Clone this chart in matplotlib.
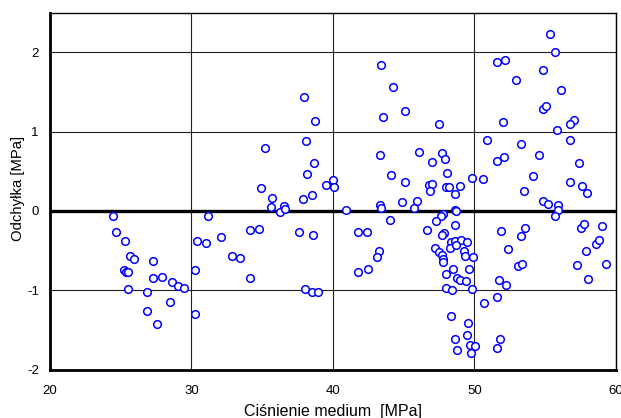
import matplotlib
matplotlib.use("Agg")
import matplotlib.pyplot as plt

plt.rcParams['font.family'] = ['Liberation Sans', 'DejaVu Sans']

pressure = [
    24.49, 24.68, 25.29, 25.65, 25.93, 25.22, 25.36, 25.50, 25.53, 26.89,
    27.29, 27.29, 27.93, 28.61, 29.03, 29.48, 28.52, 26.85, 27.60,
    30.23, 30.26, 30.42, 31.03, 31.20, 32.10, 32.84, 33.43, 34.17, 34.77, 34.17,
    37.93, 38.74, 38.12, 35.21, 38.64, 38.20, 34.90, 39.99, 39.50, 40.11,
    38.50, 37.86, 35.73, 35.66, 36.28, 36.54, 36.65, 40.94,
    37.58, 38.60, 38.03, 38.53, 38.95, 41.77, 41.77,
    43.43, 44.28, 45.10, 43.53, 47.51, 43.36, 46.12, 47.72, 47.93, 47.01,
    48.07, 44.12, 45.08, 46.80, 47.03, 46.87, 47.98, 48.21, 48.61, 48.99,
    49.81, 50.59, 44.87, 45.98, 43.33, 43.38, 45.72, 48.66,
    44.07, 42.42, 43.25, 43.15, 42.47,
    48.71, 47.76, 47.65, 47.29, 48.64, 46.68, 47.83, 47.69, 48.33, 48.64,
    49.08, 49.46, 47.24, 47.53, 48.28, 48.73, 49.24, 47.74, 47.79, 47.76,
    49.36, 49.88, 48.49, 49.63, 48.00, 48.75, 48.99, 49.39, 48.00, 48.45, 49.84,
    48.33, 49.58, 48.61, 49.50, 49.72, 50.05, 48.76, 49.77, 50.66,
    51.58, 52.17, 52.03, 50.87, 51.62, 52.12,
    55.37, 55.73, 54.88, 52.97, 56.13, 54.86, 55.09, 57.03, 56.79, 55.83,
    53.28, 56.79, 54.60, 57.40, 54.13, 53.49, 56.75, 57.60, 57.95, 54.84,
    55.23, 55.92, 55.90, 55.68,
    51.91, 52.40, 51.77, 52.22, 51.63, 51.82, 51.58,
    53.59, 53.33, 53.07, 53.37, 57.55, 57.78, 59.03, 58.61, 58.82, 57.92,
    57.24, 59.29, 58.04,
]

deviation = [
    -0.07, -0.26, -0.38, -0.57, -0.60, -0.75, -0.77, -0.77, -0.99, -1.02,
    -0.63, -0.85, -0.83, -0.89, -0.95, -0.97, -1.15, -1.26, -1.42,
    -0.75, -1.30, -0.38, -0.40, -0.07, -0.33, -0.57, -0.59, -0.24, -0.23, -0.84,
    1.44, 1.13, 0.88, 0.79, 0.61, 0.47, 0.29, 0.39, 0.33, 0.30,
    0.20, 0.15, 0.16, 0.05, -0.01, 0.06, 0.03, 0.01,
    -0.26, -0.30, -0.99, -1.02, -1.02, -0.26, -0.77,
    1.84, 1.56, 1.26, 1.18, 1.10, 0.71, 0.74, 0.73, 0.66, 0.62,
    0.48, 0.45, 0.36, 0.33, 0.34, 0.25, 0.30, 0.30, 0.21, 0.31,
    0.42, 0.40, 0.11, 0.13, 0.07, 0.04, 0.04, 0.01,
    -0.11, -0.26, -0.50, -0.58, -0.73,
    0.00, -0.04, -0.06, -0.13, -0.18, -0.24, -0.28, -0.30, -0.39, -0.38,
    -0.37, -0.39, -0.47, -0.52, -0.47, -0.43, -0.51, -0.55, -0.60, -0.64,
    -0.57, -0.58, -0.73, -0.73, -0.79, -0.85, -0.87, -0.88, -0.97, -1.00, -0.98,
    -1.32, -1.41, -1.61, -1.56, -1.69, -1.70, -1.76, -1.79, -1.16,
    1.88, 1.90, 1.12, 0.89, 0.63, 0.68,
    2.23, 2.01, 1.78, 1.65, 1.52, 1.29, 1.32, 1.15, 1.10, 1.02,
    0.85, 0.89, 0.71, 0.61, 0.44, 0.25, 0.37, 0.31, 0.23, 0.13,
    0.09, 0.07, 0.01, -0.06,
    -0.25, -0.48, -0.87, -0.94, -1.09, -1.62, -1.73,
    -0.21, -0.32, -0.69, -0.67, -0.21, -0.16, -0.19, -0.42, -0.37, -0.50,
    -0.68, -0.67, -0.86,
]

x_ticks = [20, 30, 40, 50, 60]
y_ticks = [-2, -1, 0, 1, 2]

fig = plt.figure(figsize=(6.21, 4.18), dpi=100)
ax = fig.add_axes([0.0805, 0.116, 0.911, 0.8536])

ax.set_xlim(20, 60)
ax.set_ylim(-2, 2.5)
ax.set_xticks(x_ticks)
ax.set_yticks(y_ticks)
ax.set_xticklabels([str(v) for v in x_ticks])
ax.set_yticklabels([str(v) for v in y_ticks])
ax.tick_params(length=0, labelsize=9.5, colors='black')
ax.tick_params(axis='x', pad=11)
ax.tick_params(axis='y', pad=8)

ax.grid(True, color='#222222', linewidth=0.8)
ax.set_axisbelow(True)
ax.axhline(0, color='black', linewidth=2.4, zorder=2)

ax.plot(pressure, deviation, linestyle='none', marker='o', markersize=5.5,
        markerfacecolor='white', markeredgecolor='#0000ff', markeredgewidth=1.1,
        zorder=3)

for side in ['top', 'right']:
    ax.spines[side].set_linewidth(1.0)
for side in ['left', 'bottom']:
    ax.spines[side].set_linewidth(2.0)
for s in ax.spines.values():
    s.set_color('black')

ax.set_xlabel('Ciśnienie medium  [MPa]', fontsize=11.5)
ax.set_ylabel('Odchyłka [MPa]', fontsize=10.7)
ax.xaxis.set_label_coords(0.5, -0.097)
ax.yaxis.set_label_coords(-0.044, 0.506)

fig.savefig('out.png', dpi=100)
